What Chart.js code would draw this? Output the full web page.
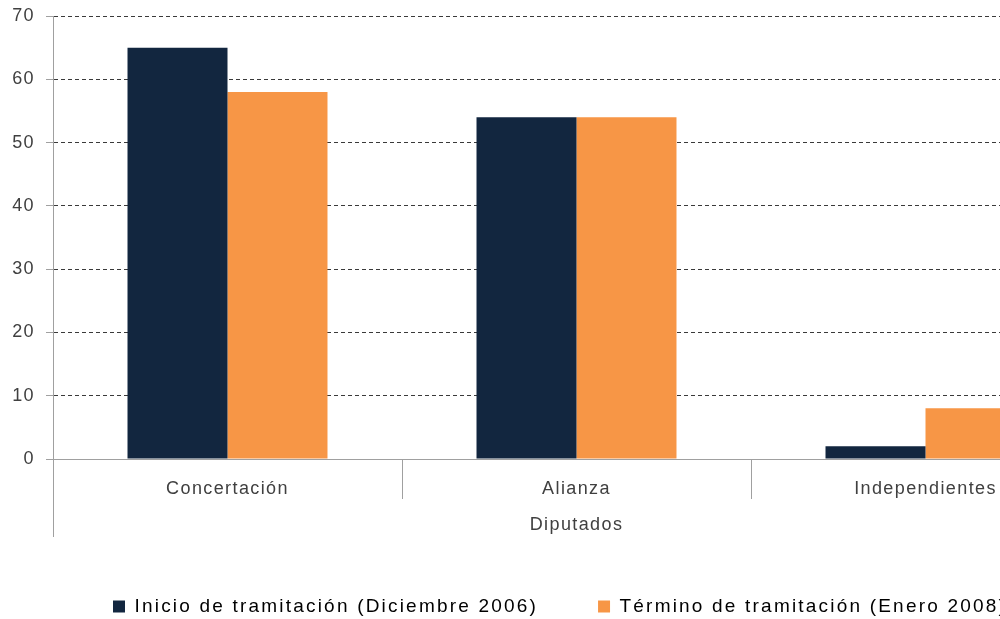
<!DOCTYPE html>
<html>
<head>
<meta charset="utf-8">
<script src="https://cdn.jsdelivr.net/npm/chart.js@4/dist/chart.umd.min.js"></script>
<style>
html,body{margin:0;padding:0;background:#fff;overflow:hidden;width:1000px;height:619px;}
#wrap{position:absolute;left:0;top:0;width:1120px;height:619px;}
</style>
</head>
<body>
<div id="wrap"><canvas id="c" width="1120" height="619"></canvas></div>
<script>
const categories = ['Concertación', 'Alianza', 'Independientes'];
const seriesNames = ['Inicio de tramitación (Diciembre 2006)', 'Término de tramitación (Enero 2008)'];
const inicioValues = [65, 54, 2];
const terminoValues = [58, 54, 8];
const groupLabel = 'Diputados';
const yTicks = [0, 10, 20, 30, 40, 50, 60, 70];

const AXIS = '#a0a0a0';
const TEXT = '#404040';
const AXIS_SPACING = '1.4px';
const LEGEND_SPACING = '2.2px';
const LEGEND_HEIGHT = 82;
const LEGEND_SHIFT = 10;

function patchLegend(chart) {
  const lg = chart.legend;
  if (!lg || lg._patched) return;
  const origFit = lg.fit.bind(lg);
  const origDraw = lg.draw.bind(lg);
  lg.fit = function () {
    const c = chart.ctx; const prev = c.letterSpacing;
    c.letterSpacing = LEGEND_SPACING;
    origFit();
    c.letterSpacing = prev;
    this.height = LEGEND_HEIGHT;
  };
  lg.draw = function () {
    const c = chart.ctx; const prev = c.letterSpacing;
    c.save();
    c.translate(LEGEND_SHIFT, 0);
    c.letterSpacing = LEGEND_SPACING;
    origDraw();
    c.restore();
    c.letterSpacing = prev;
  };
  lg._patched = true;
}

const spacingPlugin = {
  id: 'spacing',
  beforeUpdate(chart) { chart.ctx.letterSpacing = AXIS_SPACING; patchLegend(chart); },
  beforeDraw(chart) { chart.ctx.letterSpacing = AXIS_SPACING; }
};

const axisExtension = {
  id: 'axisExtension',
  afterDraw(chart) {
    const ctx = chart.ctx;
    const xs = chart.scales.x;
    const ca = chart.chartArea;
    ctx.save();
    ctx.strokeStyle = AXIS;
    ctx.lineWidth = 1;
    ctx.beginPath();
    ctx.moveTo(Math.round(ca.left) + 0.5, ca.bottom);
    ctx.lineTo(Math.round(ca.left) + 0.5, xs.bottom);
    ctx.stroke();
    ctx.restore();
  }
};

new Chart(document.getElementById('c'), {
  type: 'bar',
  data: {
    labels: categories,
    datasets: [
      { label: seriesNames[0], data: inicioValues, backgroundColor: '#12263F', borderWidth: 0 },
      { label: seriesNames[1], data: terminoValues, backgroundColor: '#F79646', borderWidth: 0 }
    ]
  },
  options: {
    responsive: false,
    devicePixelRatio: 1,
    animation: false,
    categoryPercentage: 0.573,
    barPercentage: 1,
    layout: { padding: { top: 16, right: 20, left: 0, bottom: 0 } },
    plugins: {
      tooltip: { enabled: false },
      legend: {
        position: 'bottom',
        labels: {
          boxWidth: 12, boxHeight: 12,
          padding: 60,
          color: '#000',
          font: { family: '"Liberation Sans", Arial, sans-serif', size: 19 }
        }
      }
    },
    scales: {
      y: {
        min: 0, max: 70,
        afterBuildTicks(s) { s.ticks = yTicks.map(v => ({ value: v })); },
        afterFit(s) { s.width = 53; s.paddingTop = 0; s.paddingBottom = 0; },
        border: { display: true, color: AXIS, width: 1, dash: [4, 3] },
        grid: {
          color: ctx => (ctx.tick && ctx.tick.value === 0) ? 'rgba(0,0,0,0)' : '#3a3a3a',
          tickColor: AXIS,
          tickLength: 7,
          tickBorderDash: [],
          lineWidth: 1
        },
        ticks: {
          padding: 11,
          color: TEXT,
          font: { family: '"Liberation Sans", Arial, sans-serif', size: 18 }
        }
      },
      x: {
        afterFit(s) { s.height = 78; },
        border: { display: true, color: AXIS, width: 1 },
        grid: {
          offset: true,
          drawOnChartArea: false,
          drawTicks: true,
          tickLength: 40,
          tickColor: AXIS
        },
        ticks: {
          padding: -21,
          color: TEXT,
          font: { family: '"Liberation Sans", Arial, sans-serif', size: 18 }
        },
        title: {
          display: true,
          text: groupLabel,
          color: TEXT,
          padding: { top: 0, bottom: 1 },
          font: { family: '"Liberation Sans", Arial, sans-serif', size: 18 }
        }
      }
    }
  },
  plugins: [spacingPlugin, axisExtension]
});
</script>
</body>
</html>
